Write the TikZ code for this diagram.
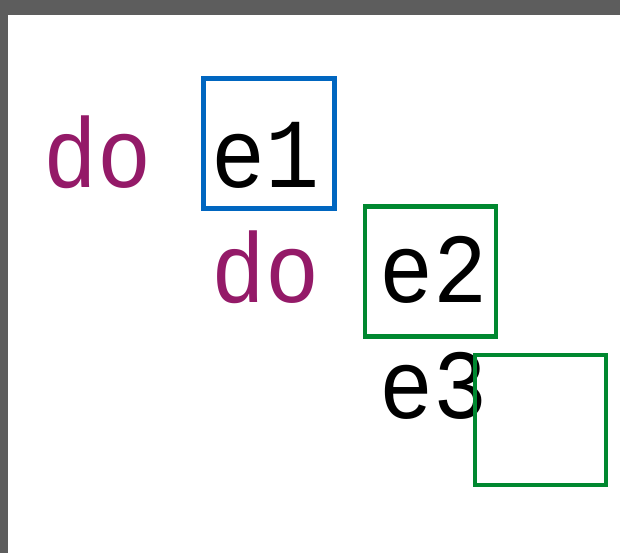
\documentclass[tikz,border=0pt]{standalone}
\usepackage{fontspec}
\setmainfont[FakeStretch=0.91]{Liberation Mono}
\definecolor{kwpurple}{RGB}{148,26,104}
\definecolor{boxblue}{RGB}{0,102,192}
\definecolor{boxgreen}{RGB}{0,136,48}
\definecolor{frame}{RGB}{93,93,93}
\begin{document}
\begin{tikzpicture}[x=1pt,y=-1pt,
  txt/.style={inner sep=0pt,anchor=base,font=\fontsize{99}{99}\selectfont},
  kw/.style={txt,text=kwpurple},
  ex/.style={txt,text=black},
  hbox/.style={draw,line width=4.5pt,minimum width=131pt,minimum height=130pt,inner sep=0pt},
]
\useasboundingbox (0,0) rectangle (620,553);
\fill[frame] (0,0) rectangle (620,553);
\fill[white] (8,15) rectangle (620,553);
\node[hbox,draw=boxblue] (b1) at (269,143.5) {};
\node[hbox,draw=boxgreen] (b2) at (430.5,271.5) {};
\node[kw] (do1) at (97.5,188) {do};
\node[ex] (e1) at (265.5,188) {e1};
\node[kw] (do2) at (266,302) {do};
\node[ex] (e2) at (433.5,302) {e2};
\node[ex] (e3) at (434,418) {e3};
\node[hbox,draw=boxgreen] (b3) at (540.5,420) {};
\end{tikzpicture}
\end{document}
